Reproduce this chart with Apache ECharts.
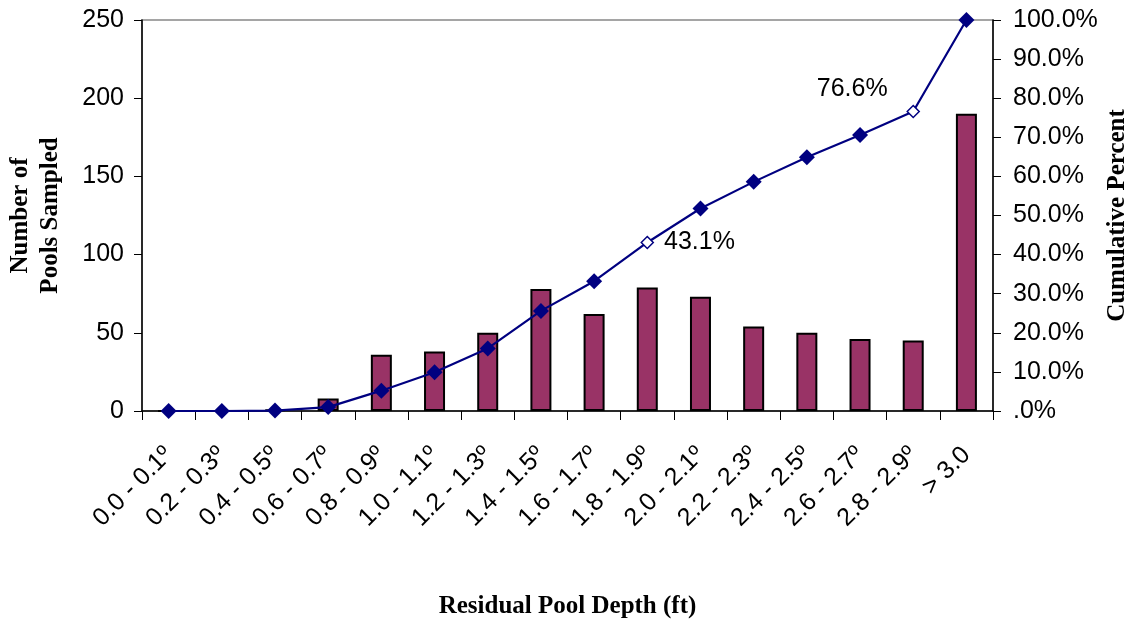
<!DOCTYPE html>
<html>
<head>
<meta charset="utf-8">
<script src="https://cdn.jsdelivr.net/npm/echarts@6/dist/echarts.min.js"></script>
<style>html,body{margin:0;padding:0;background:#fff;}#c{width:1135px;height:624px;}</style>
</head>
<body>
<div id="c"></div>
<script>
const categories = ['0.0 - 0.1º','0.2 - 0.3º','0.4 - 0.5º','0.6 - 0.7º','0.8 - 0.9º','1.0 - 1.1º','1.2 - 1.3º','1.4 - 1.5º','1.6 - 1.7º','1.8 - 1.9º','2.0 - 2.1º','2.2 - 2.3º','2.4 - 2.5º','2.6 - 2.7º','2.8 - 2.9º','> 3.0'];
const poolsSampled = [0, 0, 1, 8, 36, 38, 50, 78, 62, 79, 73, 54, 50, 46, 45, 190];
const cumulativePercent = [0, 0, 0.1, 1.0, 5.2, 9.9, 16.0, 25.6, 33.2, 43.1, 51.8, 58.6, 64.9, 70.6, 76.6, 100];

const navy = '#000080';
const lineData = cumulativePercent.map((v, i) => {
  if (i === 9) {
    return { value: v, symbolSize: 12, itemStyle: { color: '#fff', borderColor: navy, borderWidth: 1.5 },
      label: { show: true, position: 'right', distance: 10, formatter: v.toFixed(1) + '%' } };
  }
  if (i === 14) {
    return { value: v, symbolSize: 12, itemStyle: { color: '#fff', borderColor: navy, borderWidth: 1.5 },
      label: { show: true, position: 'inside', offset: [-61, -22], formatter: v.toFixed(1) + '%' } };
  }
  return v;
});

const font = 'Liberation Sans, Arial, sans-serif';
const serif = 'Liberation Serif, Times New Roman, serif';

const chart = echarts.init(document.getElementById('c'));
chart.setOption({
  animation: false,
  backgroundColor: '#fff',
  grid: { left: 142, right: 142, top: 20, bottom: 213, show: true, borderColor: '#888', borderWidth: 1.5, outerBoundsMode: 'none', containLabel: false },
  xAxis: {
    type: 'category',
    data: categories,
    name: 'Residual Pool Depth (ft)',
    nameLocation: 'middle',
    nameGap: 183,
    nameMoveOverlap: false,
    nameTextStyle: { fontFamily: serif, fontWeight: 'bold', fontSize: 25, color: '#000' },
    axisLine: { lineStyle: { color: '#000', width: 1.5 } },
    axisTick: { show: true, length: 9, lineStyle: { color: '#000' } },
    axisLabel: { interval: 0, rotate: 45, fontFamily: font, fontSize: 25, color: '#000', margin: 40 },
    splitLine: { show: false }
  },
  yAxis: [
    {
      type: 'value', min: 0, max: 250, interval: 50,
      name: 'Number of\nPools Sampled',
      nameLocation: 'middle', nameRotate: 90, nameGap: 76,
      nameMoveOverlap: false,
      nameTextStyle: { fontFamily: serif, fontWeight: 'bold', fontSize: 25, color: '#000', lineHeight: 30 },
      axisLine: { show: true, lineStyle: { color: '#000', width: 1.5 } },
      axisTick: { show: true, length: 8, lineStyle: { color: '#000' } },
      axisLabel: { fontFamily: font, fontSize: 25, color: '#000', margin: 18 },
      splitLine: { show: false }
    },
    {
      type: 'value', min: 0, max: 100, interval: 10,
      name: 'Cumulative Percent',
      nameLocation: 'middle', nameRotate: 90, nameGap: 112,
      nameMoveOverlap: false,
      nameTextStyle: { fontFamily: serif, fontWeight: 'bold', fontSize: 25, color: '#000' },
      axisLine: { show: true, lineStyle: { color: '#000', width: 1.5 } },
      axisTick: { show: true, length: 8, lineStyle: { color: '#000' } },
      axisLabel: { fontFamily: font, fontSize: 25, color: '#000', margin: 20,
        formatter: v => v === 0 ? '.0%' : v.toFixed(1) + '%' },
      splitLine: { show: false }
    }
  ],
  series: [
    {
      type: 'bar', yAxisIndex: 0, data: poolsSampled, barWidth: 21,
      itemStyle: { color: '#993366', borderColor: '#000', borderWidth: 2 }
    },
    {
      type: 'line', yAxisIndex: 1, data: lineData,
      symbol: 'diamond', symbolSize: 16,
      lineStyle: { color: navy, width: 2.2 },
      itemStyle: { color: navy },
      label: { fontFamily: font, fontSize: 25, color: '#000' },
      z: 3
    }
  ]
});
</script>
</body>
</html>
